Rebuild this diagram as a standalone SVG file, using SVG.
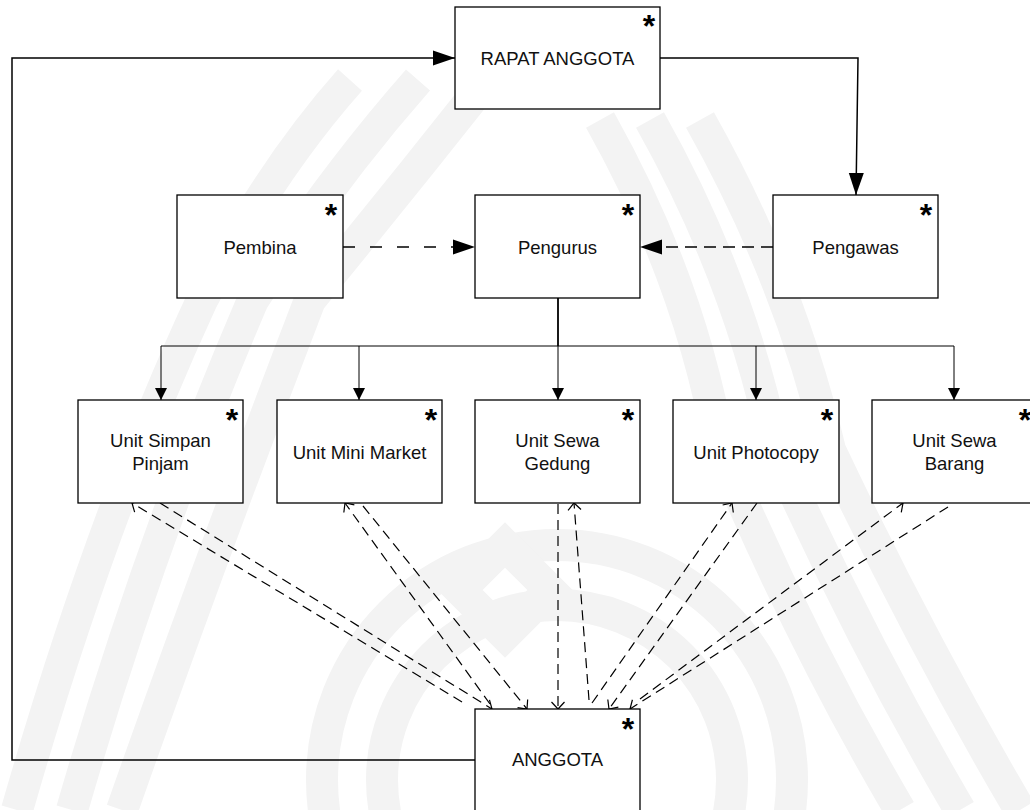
<svg xmlns="http://www.w3.org/2000/svg" width="1030" height="810" viewBox="0 0 1030 810">
<style>
.box{fill:#fff;stroke:#000;stroke-width:1.3}
.lbl{font-family:"Liberation Sans",Arial,sans-serif;font-size:18.5px;fill:#111;text-anchor:middle}
.ast{font-family:"Liberation Sans",Arial,sans-serif;font-size:32px;font-weight:bold;fill:#000;text-anchor:middle}
.solid{fill:none;stroke:#000;stroke-width:1.5}
.thin{fill:none;stroke:#000;stroke-width:1}
.dash1{fill:none;stroke:#000;stroke-width:1.5;stroke-dasharray:12 15}
.dash2{fill:none;stroke:#000;stroke-width:1.5;stroke-dasharray:12 7}
.dsh{fill:none;stroke:#000;stroke-width:1.2;stroke-dasharray:10 6;marker-end:url(#open)}
.wm{fill:none;stroke:#f3f3f3;stroke-width:32}
</style>
<defs>
<marker id="big" markerUnits="userSpaceOnUse" markerWidth="24" markerHeight="18" viewBox="-23 -8 24 16" refX="0" refY="0" orient="auto">
<path d="M0,0 L-22,-7.5 L-22,7.5 Z" fill="#000"/>
</marker>
<marker id="small" markerUnits="userSpaceOnUse" markerWidth="14" markerHeight="14" viewBox="-13 -7 14 14" refX="0" refY="0" orient="auto">
<path d="M0,0 L-12,-6 L-12,6 Z" fill="#000"/>
</marker>
<marker id="open" markerUnits="userSpaceOnUse" markerWidth="12" markerHeight="16" viewBox="-10 -8 12 16" refX="0" refY="0" orient="auto">
<path d="M-7,-6.5 L0,0 L-7,6.5" fill="none" stroke="#000" stroke-width="1.2"/>
</marker>
</defs>
<rect width="1030" height="810" fill="#fff"/>
<g id="watermark">
<path class="wm" d="M350,80 Q270,170 202,300 Q100,520 17,810"/>
<path class="wm" d="M418,80 Q330,180 253,300 Q150,540 72,810"/>
<path class="wm" d="M487,80 Q400,190 310,300 Q210,560 122,810"/>
<path class="wm" d="M600,120 Q690,280 720,450 Q800,640 900,810"/>
<path class="wm" d="M650,120 Q740,280 775,450 Q860,640 960,810"/>
<path class="wm" d="M700,120 Q790,280 830,450 Q920,640 1020,810"/>
<circle class="wm" cx="557" cy="780" r="235" stroke-width="26"/>
<circle class="wm" cx="557" cy="780" r="175" stroke-width="26"/>
<path class="wm" d="M505,545 L550,590 L505,635 L460,590 Z" stroke-width="20"/>
</g>
<g id="connectors">
<polyline class="solid" points="475,760 12,760 12,58 455,58" marker-end="url(#big)"/>
<polyline class="solid" points="660,58 858,58 856,195" marker-end="url(#big)"/>
<line class="dash1" x1="343" y1="247" x2="475" y2="247" marker-end="url(#big)"/>
<line class="dash2" x1="773" y1="247" x2="640" y2="247" marker-end="url(#big)"/>
<line x1="558" y1="298" x2="558" y2="346" stroke="#000" stroke-width="1.8"/>
<line class="thin" x1="161" y1="346" x2="954" y2="346"/>
<line class="thin" x1="161" y1="346" x2="161" y2="400" marker-end="url(#small)"/>
<line class="thin" x1="359" y1="346" x2="359" y2="400" marker-end="url(#small)"/>
<line class="thin" x1="558" y1="346" x2="558" y2="400" marker-end="url(#small)"/>
<line class="thin" x1="756" y1="346" x2="756" y2="400" marker-end="url(#small)"/>
<line class="thin" x1="954" y1="346" x2="954" y2="400" marker-end="url(#small)"/>
<line class="dsh" x1="160" y1="503" x2="492" y2="709"/>
<line class="dsh" x1="462" y1="702" x2="132" y2="503"/>
<line class="dsh" x1="490" y1="704" x2="345" y2="503"/>
<line class="dsh" x1="363" y1="506" x2="527" y2="709"/>
<line class="dsh" x1="558" y1="504" x2="558" y2="709"/>
<line class="dsh" x1="589" y1="700" x2="574" y2="503"/>
<line class="dsh" x1="592" y1="703" x2="732" y2="503"/>
<line class="dsh" x1="757" y1="503" x2="609" y2="709"/>
<line class="dsh" x1="640" y1="699" x2="903" y2="503"/>
<line class="dsh" x1="948" y1="507" x2="630" y2="709"/>
</g>
<g id="rapat-anggota">
<rect class="box" x="455" y="7" width="205" height="102"/>
<text class="lbl" x="557.5" y="65">RAPAT ANGGOTA</text>
<text class="ast" x="649" y="37">*</text>
</g>
<g id="pembina">
<rect class="box" x="177" y="195" width="166" height="103"/>
<text class="lbl" x="260" y="254">Pembina</text>
<text class="ast" x="331" y="226">*</text>
</g>
<g id="pengurus">
<rect class="box" x="475" y="195" width="165" height="103"/>
<text class="lbl" x="557.5" y="254">Pengurus</text>
<text class="ast" x="628" y="226">*</text>
</g>
<g id="pengawas">
<rect class="box" x="773" y="195" width="165" height="103"/>
<text class="lbl" x="855.5" y="254">Pengawas</text>
<text class="ast" x="926" y="226">*</text>
</g>
<g id="unit-simpan-pinjam">
<rect class="box" x="78" y="400" width="165" height="103"/>
<text class="lbl" x="160.5" y="446.5">Unit Simpan</text>
<text class="lbl" x="160.5" y="470">Pinjam</text>
<text class="ast" x="232" y="431">*</text>
</g>
<g id="unit-mini-market">
<rect class="box" x="277" y="400" width="165" height="103"/>
<text class="lbl" x="359.5" y="458.5">Unit Mini Market</text>
<text class="ast" x="431" y="431">*</text>
</g>
<g id="unit-sewa-gedung">
<rect class="box" x="475" y="400" width="165" height="103"/>
<text class="lbl" x="557.5" y="446.5">Unit Sewa</text>
<text class="lbl" x="557.5" y="470">Gedung</text>
<text class="ast" x="628" y="431">*</text>
</g>
<g id="unit-photocopy">
<rect class="box" x="673" y="400" width="166" height="103"/>
<text class="lbl" x="756" y="458.5">Unit Photocopy</text>
<text class="ast" x="827" y="431">*</text>
</g>
<g id="unit-sewa-barang">
<rect class="box" x="872" y="400" width="165" height="103"/>
<text class="lbl" x="954.5" y="446.5">Unit Sewa</text>
<text class="lbl" x="954.5" y="470">Barang</text>
<text class="ast" x="1025" y="431">*</text>
</g>
<g id="anggota">
<rect class="box" x="475" y="709" width="165" height="103"/>
<text class="lbl" x="557.5" y="766">ANGGOTA</text>
<text class="ast" x="628" y="740">*</text>
</g>
</svg>
